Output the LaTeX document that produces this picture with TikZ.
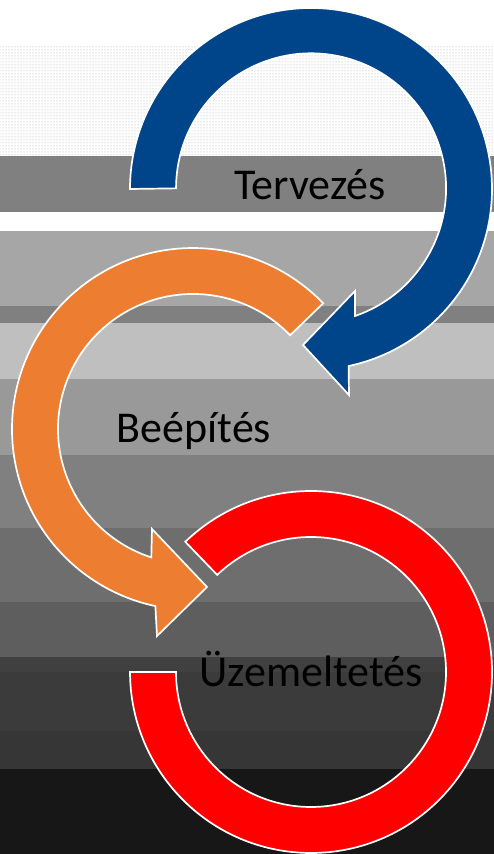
\documentclass[tikz,border=0pt]{standalone}
\usepackage{fontspec}
\setmainfont{Carlito}
\usetikzlibrary{patterns}
\definecolor{planblue}{RGB}{0,68,138}
\definecolor{buildorange}{RGB}{237,125,49}
\definecolor{operred}{RGB}{255,0,0}

\begin{document}
\begin{tikzpicture}[x=1pt,y=1pt,
  ring/.style={draw=white,line width=1.7pt,line join=miter},
  phase/.style={anchor=base,text=black,inner sep=0pt,font=\fontsize{44}{52}\selectfont}]
\useasboundingbox (0,0) rectangle (494,854);
\fill[white] (0,0) rectangle (494,854);

% background bands
\fill[pattern=dots,pattern color=black!35] (0,698) rectangle (494,807);
\foreach \ya/\yb/\p in {642/698/50, 548/623/35, 531/548/50, 475/531/25, 399/475/40, 326/399/50,
  252/326/57, 197/252/63, 182/197/75, 123/182/77, 85/123/79, 0/85/91}
  \fill[black!\p] (0,\ya) rectangle (494,\yb);

% blue arrow
\filldraw[ring,fill=planblue] (130,665) arc[start angle=180,end angle=-78,radius=181]
  -- (349,459) -- (303,509) -- (355,563) -- (355,538)
  arc[start angle=-71,end angle=180,radius=135] -- cycle;

% orange arrow
\filldraw[ring,fill=buildorange] (323.2,550.7) arc[start angle=44,end angle=258,radius=181]
  -- (157,218) -- (207,267) -- (152,325) -- (151.3,296.6)
  arc[start angle=252,end angle=44,radius=135] -- cycle;

% red ring
\filldraw[ring,fill=operred] (185.3,312.2) arc[start angle=134,end angle=-180,radius=181]
  -- (176,182) arc[start angle=180,end angle=494,radius=135] -- cycle;

\node[phase] (plan) at (310,654) {Tervezés};
\node[phase] (build) at (194,411) {Beépítés};
\node[phase] (operate) at (311,167) {Üzemeltetés};
\end{tikzpicture}
\end{document}
